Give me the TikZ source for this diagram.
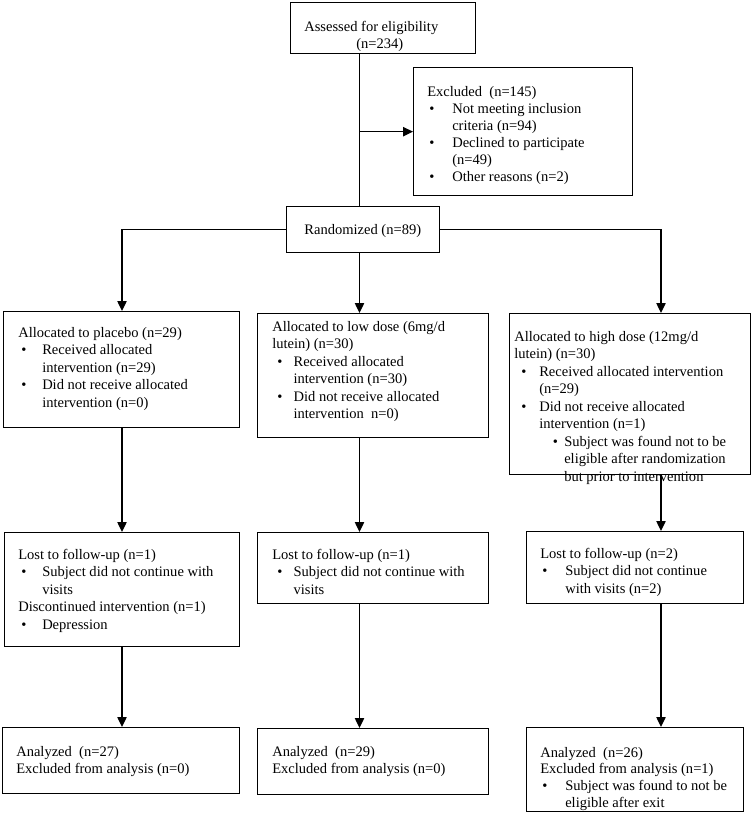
\documentclass[tikz,border=0pt]{standalone}
\usepackage{fontspec}
\setmainfont{Liberation Serif}
\usetikzlibrary{arrows.meta}
\newcommand\itm[3]{\par\noindent\hangindent=#2\hangafter=1\hspace*{#1}\makebox[\dimexpr#2-#1\relax][l]{\textbullet}#3}
\newcommand\plainline[1]{\par\noindent #1}
\begin{document}
\begin{tikzpicture}[x=0.75pt,y=-0.75pt,
  box/.style={draw,line width=1pt,inner sep=0pt,anchor=north west},
  txt/.style={inner sep=0pt,anchor=base west,font=\fontsize{10.9pt}{13.1pt}\selectfont},
  arr/.style={line width=1pt,-{Triangle[length=7.5pt,width=7pt]}},
  ln/.style={line width=1pt}]
\useasboundingbox[fill=white] (0,0) rectangle (752,814);

% boxes
\node[box,minimum width={185*0.75pt},minimum height={51*0.75pt}] (assess) at (290,2) {};
\node[box,minimum width={219*0.75pt},minimum height={128*0.75pt}] (excl) at (413,67) {};
\node[box,minimum width={153*0.75pt},minimum height={46*0.75pt}] (rand) at (286,206) {};
\node[box,minimum width={236*0.75pt},minimum height={116*0.75pt}] (plac) at (3,311) {};
\node[box,minimum width={231*0.75pt},minimum height={124*0.75pt}] (low) at (257,313) {};
\node[box,minimum width={241*0.75pt},minimum height={161*0.75pt}] (high) at (509,313) {};
\node[box,minimum width={235*0.75pt},minimum height={114*0.75pt}] (lostA) at (4,532) {};
\node[box,minimum width={231*0.75pt},minimum height={71*0.75pt}] (lostB) at (257,532) {};
\node[box,minimum width={217*0.75pt},minimum height={72*0.75pt}] (lostC) at (526,531) {};
\node[box,minimum width={237*0.75pt},minimum height={66*0.75pt}] (anA) at (2,727) {};
\node[box,minimum width={231*0.75pt},minimum height={66*0.75pt}] (anB) at (257,728) {};
\node[box,minimum width={217*0.75pt},minimum height={84*0.75pt}] (anC) at (526,727) {};

% texts
\node[txt] (tassess) at (287,31.5) {\begin{minipage}[t]{138.75pt}\centering Assessed for eligibility\newline (n=234)\end{minipage}};
\node[txt,font=\fontsize{10.9pt}{12.8pt}\selectfont] (texcl) at (427,96.5) {\begin{minipage}[t]{300pt}\raggedright
Excluded~ (n=145)
\itm{1.5pt}{18.75pt}{Not meeting inclusion\newline criteria (n=94)}
\itm{1.5pt}{18.75pt}{Declined to participate\newline (n=49)}
\itm{1.5pt}{18.75pt}{Other reasons (n=2)}
\end{minipage}};
\node[txt] (trand) at (286,234.5) {\begin{minipage}[t]{114.75pt}\centering Randomized (n=89)\end{minipage}};
\node[txt] (tplac) at (18,337.5) {\begin{minipage}[t]{300pt}\raggedright
Allocated to placebo (n=29)
\itm{2.25pt}{18pt}{Received allocated\newline intervention (n=29)}
\itm{2.25pt}{18pt}{Did not receive allocated\newline intervention (n=0)}
\end{minipage}};
\node[txt] (tlow) at (272,331.5) {\begin{minipage}[t]{300pt}\raggedright
Allocated to low dose (6mg/d\newline lutein) (n=30)
\itm{3.75pt}{16pt}{Received allocated\newline intervention (n=30)}
\itm{3.75pt}{16pt}{Did not receive allocated\newline intervention~ n=0)}
\end{minipage}};
\node[txt] (thigh) at (514,341.5) {\begin{minipage}[t]{300pt}\raggedright
Allocated to high dose (12mg/d\newline lutein) (n=30)
\itm{5.25pt}{18.75pt}{Received allocated intervention\newline (n=29)}
\itm{5.25pt}{18.75pt}{Did not receive allocated\newline intervention (n=1)}
\itm{29pt}{37.5pt}{Subject was found not to be\newline eligible after randomization\newline but prior to intervention}
\end{minipage}};
\node[txt] (tlostA) at (18,559.5) {\begin{minipage}[t]{300pt}\raggedright
Lost to follow-up (n=1)
\itm{2.25pt}{18pt}{Subject did not continue with\newline visits}
\plainline{Discontinued intervention (n=1)}
\itm{2.25pt}{18pt}{Depression}
\end{minipage}};
\node[txt] (tlostB) at (272,559.5) {\begin{minipage}[t]{300pt}\raggedright
Lost to follow-up (n=1)
\itm{3.75pt}{16pt}{Subject did not continue with\newline visits}
\end{minipage}};
\node[txt] (tlostC) at (540,558.5) {\begin{minipage}[t]{300pt}\raggedright
Lost to follow-up (n=2)
\itm{1.5pt}{18.75pt}{Subject did not continue\newline with visits (n=2)}
\end{minipage}};
\node[txt] (tanA) at (16,756.5) {\begin{minipage}[t]{300pt}\raggedright
Analyzed~ (n=27)\newline Excluded from analysis (n=0)
\end{minipage}};
\node[txt] (tanB) at (272,756.5) {\begin{minipage}[t]{300pt}\raggedright
Analyzed~ (n=29)\newline Excluded from analysis (n=0)
\end{minipage}};
\node[txt,font=\fontsize{10.9pt}{12.6pt}\selectfont] (tanC) at (540,757) {\begin{minipage}[t]{300pt}\raggedright
Analyzed~ (n=26)\newline Excluded from analysis (n=1)
\itm{1.5pt}{18.75pt}{Subject was found to not be\newline eligible after exit}
\end{minipage}};

% columns
\coordinate (cA) at (122,0);
\coordinate (cB) at (359.5,0);
\coordinate (cC) at (661,0);

% connectors
\draw[ln] (assess.south -| cB) -- (rand.north -| cB);
\draw[arr] (cB |- excl.west) -- (excl.west);
\draw[arr] (rand.west) -| (plac.north -| cA);
\draw[arr] (rand.south -| cB) -- (low.north -| cB);
\draw[arr] (rand.east) -| (high.north -| cC);
\draw[arr] (plac.south -| cA) -- (lostA.north -| cA);
\draw[arr] (low.south -| cB) -- (lostB.north -| cB);
\draw[arr] (high.south -| cC) -- (lostC.north -| cC);
\draw[arr] (lostA.south -| cA) -- (anA.north -| cA);
\draw[arr] (lostB.south -| cB) -- (anB.north -| cB);
\draw[arr] (lostC.south -| cC) -- (anC.north -| cC);
\end{tikzpicture}
\end{document}
